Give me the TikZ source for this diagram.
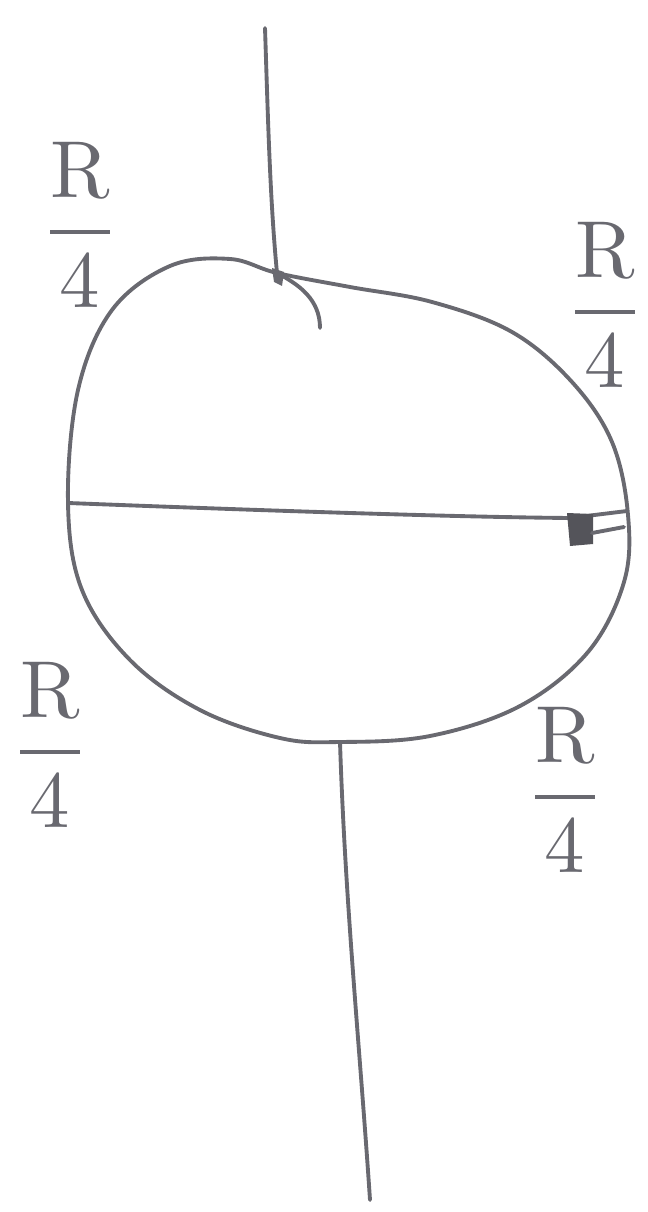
\documentclass[tikz,border=0pt]{standalone}
\usepackage{amsmath}
\begin{document}
\begin{tikzpicture}[x=0.02cm,y=-0.02cm,
  ink/.style={draw=inkc,line width=2.2pt,line cap=round,line join=round},
  lbl/.style={text=inkc,inner sep=0pt}]
\definecolor{inkc}{RGB}{105,105,112}
\newcommand{\rfour}{\scalebox{4.6}{$\dfrac{\mathrm{R}}{4}$}}
\useasboundingbox (0,0) rectangle (648,1212);
% loop
\draw[ink] plot[smooth cycle,tension=0.6] coordinates {(277,273) (230,259) (170,266) (112,310) (78,390) (68,503) (82,590) (130,660) (200,710) (280,738) (340,742) (430,736) (520,706) (588,652) (624,582) (628,515) (612,442) (572,382) (512,332) (432,302) (350,287)};
% terminals
\coordinate (top) at (277,273);
\coordinate (bot) at (340,742);
\coordinate (topend) at (265,28);
\coordinate (botend) at (370,1200);
\coordinate (dl) at (68,503);
\coordinate (dr) at (627,511);
\draw[ink] (topend) .. controls (268,120) and (270,200) .. (top);
\draw[ink] (bot) .. controls (345,900) and (360,1050) .. (botend);
% hook at top
\coordinate (hook) at (320,328);
\draw[ink] (top) .. controls (300,285) and (320,300) .. (hook);
\fill[inkc] (272,268) -- (284,272) -- (282,286) -- (274,282) -- cycle;
% diameter
\draw[ink] (dl) .. controls (250,510) and (450,517) .. (570,518) -- (dr);
\fill[inkc!80!black] (567,513) -- (593,514) -- (593,544) -- (570,546) -- cycle;
\draw[ink] (592,533) -- (624,527);
% labels
\node[lbl] (l1) at (80,225) {\rfour};
\node[lbl] (l2) at (605,305) {\rfour};
\node[lbl] (l3) at (50,745) {\rfour};
\node[lbl] (l4) at (565,790) {\rfour};
\end{tikzpicture}
\end{document}
